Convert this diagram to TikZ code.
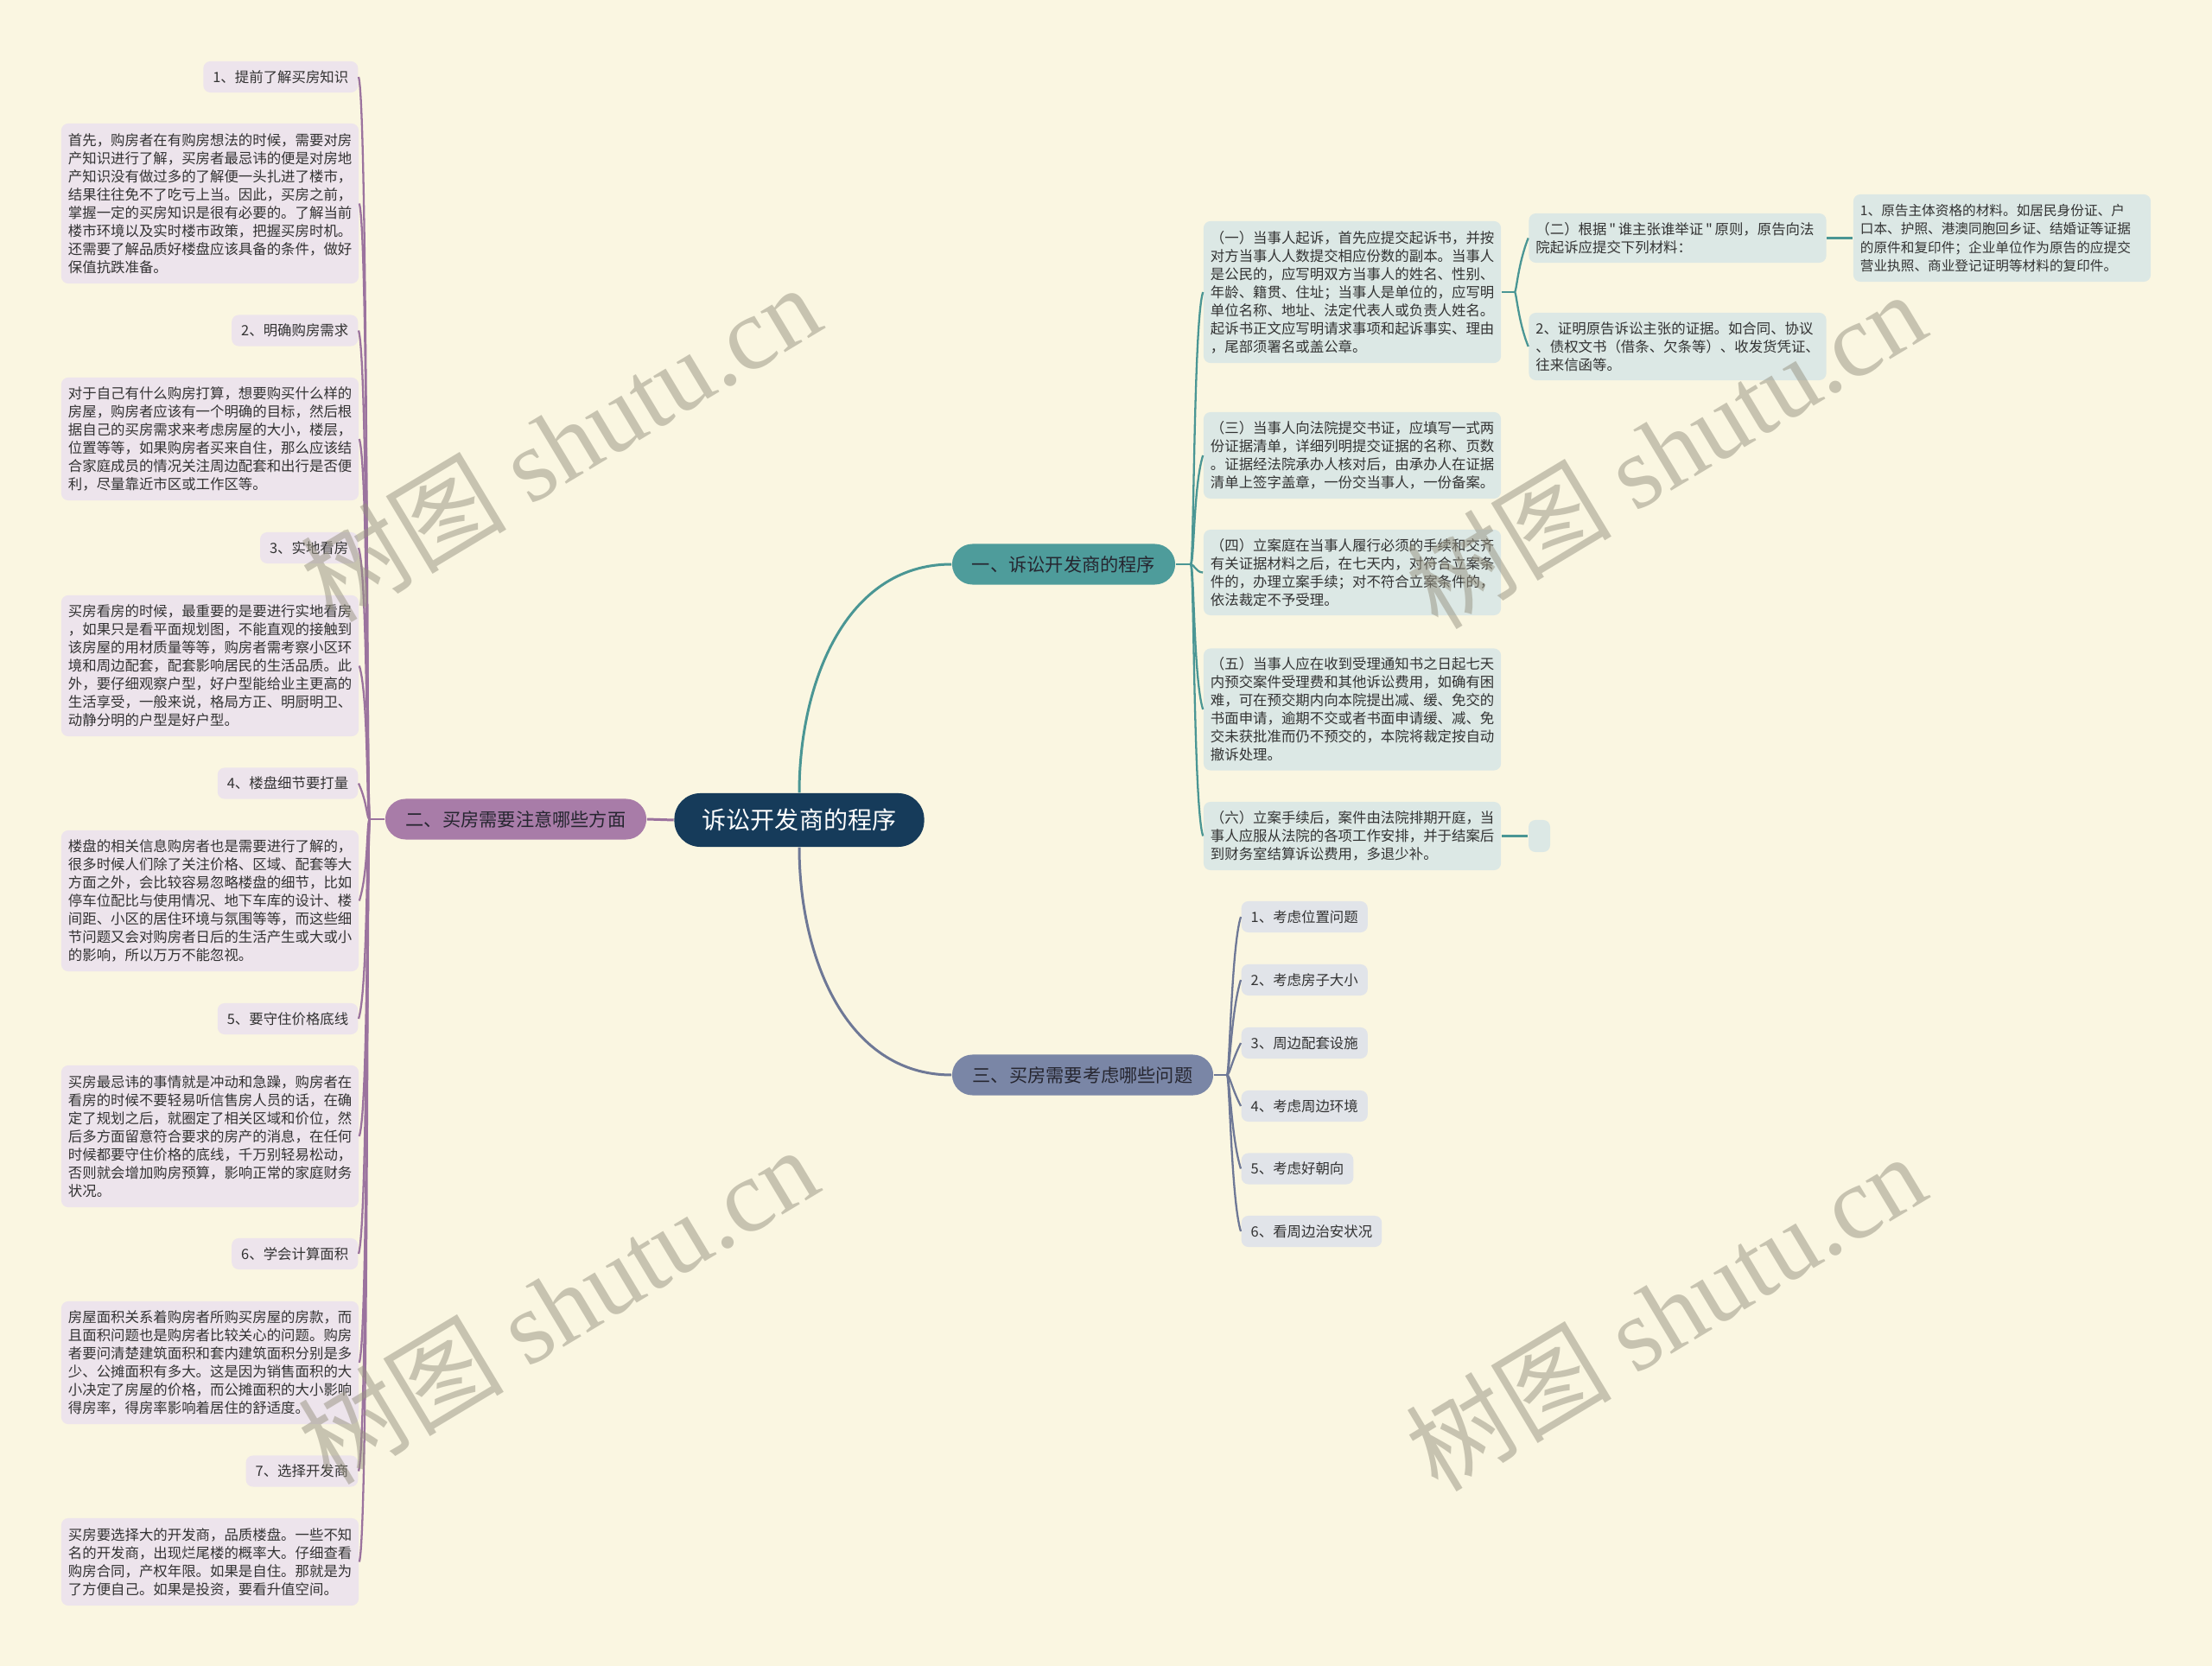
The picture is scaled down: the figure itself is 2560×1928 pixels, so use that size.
\documentclass[tikz,border=0pt]{standalone}
\usepackage{fontspec}
\setmainfont{Noto Sans CJK SC}
\newfontfamily\cjkplain{Noto Sans CJK SC}
\newfontfamily\wmlatin{Liberation Serif}
\usepackage{tikz}

\definecolor{paper}{RGB}{250,246,225}
\definecolor{rootblue}{RGB}{22,59,90}
\definecolor{teal1}{RGB}{78,156,155}
\definecolor{plum2}{RGB}{168,124,168}
\definecolor{slate3}{RGB}{122,134,166}
\definecolor{tealline}{RGB}{74,150,148}
\definecolor{plumline}{RGB}{155,115,158}
\definecolor{slateline}{RGB}{110,120,150}
\definecolor{tealbox}{RGB}{220,232,229}
\definecolor{plumbox}{RGB}{237,228,236}
\definecolor{slatebox}{RGB}{225,228,233}
\definecolor{ink}{RGB}{51,51,51}
\definecolor{branchink}{RGB}{38,38,48}
\definecolor{wmgray}{RGB}{150,146,128}

\begin{document}
\begin{tikzpicture}[x = 0.01cm, y = -0.01cm,
                    root/.style = {rounded corners = 0.3cm, fill = rootblue, text = white,
                                   minimum width = 2.89cm, minimum height = 0.62cm,
                                   font = \fontsize{7.97pt}{9pt}\selectfont},
                    branch/.style = {rounded corners = 0.235cm, minimum height = 0.47cm,
                                     text = branchink, font = \fontsize{6.03pt}{7pt}\selectfont},
                    leaf/.style = {rounded corners = 0.08cm, inner xsep = 0.11cm, inner ysep = 0pt,
                                   minimum height = 0.36cm, text = ink,
                                   font = \fontsize{4.67pt}{5.98pt}\selectfont},
                    para/.style = {rounded corners = 0.08cm, inner xsep = 0.08cm, inner ysep = 0pt,
                                   text width = 3.28cm, align = left, text = ink,
                                   font = \fontsize{4.67pt}{5.98pt}\selectfont},
                    line1/.style = {draw = tealline, line width = 0.65pt},
                    line2/.style = {draw = plumline, line width = 0.65pt},
                    line3/.style = {draw = slateline, line width = 0.65pt},
                    wmark/.style = {rotate = 31, text = wmgray, text opacity = 0.5,
                                    font = \fontsize{34pt}{34pt}\selectfont}]

\fill [paper] (0,0) rectangle (2560,1928);
\useasboundingbox (0,0) rectangle (2560,1928);

% centre and main branches
\node [root] (root) at (925,949) {诉讼开发商的程序};
\node [branch, fill = teal1, minimum width = 2.58cm] (b1) at (1231,653) {一、诉讼开发商的程序};
\node [branch, fill = plum2, minimum width = 3.02cm] (b2) at (597,948) {二、买房需要注意哪些方面};
\node [branch, fill = slate3, minimum width = 3.02cm] (b3) at (1253,1244) {三、买房需要考虑哪些问题};

\draw [line1, line width = 0.85pt] (root.north) to [out = 90, in = 180] (b1.west);
\draw [line2, line width = 0.85pt] (root.west) -- (b2.east);
\draw [line3, line width = 0.85pt] (root.south) to [out = -90, in = 180] (b3.west);

% branch one
\node [para, fill = tealbox, minimum height = 1.64cm] (R1) at (1565,338)
  {（一）当事人起诉，首先应提交起诉书，并按\\对方当事人人数提交相应份数的副本。当事人\\是公民的，应写明双方当事人的姓名、性别、\\年龄、籍贯、住址；当事人是单位的，应写明\\单位名称、地址、法定代表人或负责人姓名。\\起诉书正文应写明请求事项和起诉事实、理由\\，尾部须署名或盖公章。};
\node [para, fill = tealbox, minimum height = 1.00cm] (R3) at (1565,527)
  {（三）当事人向法院提交书证，应填写一式两\\份证据清单，详细列明提交证据的名称、页数\\。证据经法院承办人核对后，由承办人在证据\\清单上签字盖章，一份交当事人，一份备案。};
\node [para, fill = tealbox, minimum height = 0.99cm] (R4) at (1565,662.5)
  {（四）立案庭在当事人履行必须的手续和交齐\\有关证据材料之后，在七天内，对符合立案条\\件的，办理立案手续；对不符合立案条件的，\\依法裁定不予受理。};
\node [para, fill = tealbox, minimum height = 1.41cm] (R5) at (1565,821)
  {（五）当事人应在收到受理通知书之日起七天\\内预交案件受理费和其他诉讼费用，如确有困\\难，可在预交期内向本院提出减、缓、免交的\\书面申请，逾期不交或者书面申请缓、减、免\\交未获批准而仍不预交的，本院将裁定按自动\\撤诉处理。};
\node [para, fill = tealbox, minimum height = 0.79cm] (R6) at (1565,967.5)
  {（六）立案手续后，案件由法院排期开庭，当\\事人应服从法院的各项工作安排，并于结案后\\到财务室结算诉讼费用，多退少补。};

\node [para, fill = tealbox, minimum height = 0.57cm] (R2) at (1941.5,275.5)
  {（二）根据\,{\cjkplain "}\,谁主张谁举证\,{\cjkplain "}\,原则，原告向法\\院起诉应提交下列材料：};
\node [para, fill = tealbox, minimum height = 0.78cm] (R2b) at (1941.5,401)
  {2、证明原告诉讼主张的证据。如合同、协议\\、债权文书（借条、欠条等）、收发货凭证、\\往来信函等。};
\node [para, fill = tealbox, minimum height = 1.01cm, font = \fontsize{4.45pt}{6.1pt}\selectfont] (R2a) at (2317,275.5)
  {1、原告主体资格的材料。如居民身份证、户\\口本、护照、港澳同胞回乡证、结婚证等证据\\的原件和复印件；企业单位作为原告的应提交\\营业执照、商业登记证明等材料的复印件。};
\node [leaf, fill = tealbox, inner xsep = 0pt, minimum width = 0.25cm, minimum height = 0.37cm] (R6a) at (1781.5,967.5) {};

\coordinate (f1) at (1378,653);
\draw [line1] (b1.east) -- (f1);
\draw [line1] (f1) .. controls +(4,0) and +(-11,35) .. (R1.west);
\draw [line1] (f1) .. controls +(4,0) and +(-11,35) .. (R3.west);
\draw [line1] (f1) .. controls +(4,0) and +(-8,0) .. (R4.west);
\draw [line1] (f1) .. controls +(4,0) and +(-11,-35) .. (R5.west);
\draw [line1] (f1) .. controls +(4,0) and +(-11,-35) .. (R6.west);

\coordinate (f11) at (1753,338);
\draw [line1] (R1.east) -- (f11);
\draw [line1] (f11) .. controls +(2,0) and +(-12,30) .. (R2.west);
\draw [line1] (f11) .. controls +(2,0) and +(-12,-30) .. (R2b.west);
\draw [line1] (R2.east) -- (R2a.west);
\draw [line1] (R6.east) -- (R6a.west);

% branch two
\node [leaf, fill = plumbox, anchor = east] (L1) at (415,89) {1、提前了解买房知识};
\node [para, fill = plumbox, minimum height = 1.85cm] (P1) at (243,235.5)
  {首先，购房者在有购房想法的时候，需要对房\\产知识进行了解，买房者最忌讳的便是对房地\\产知识没有做过多的了解便一头扎进了楼市，\\结果往往免不了吃亏上当。因此，买房之前，\\掌握一定的买房知识是很有必要的。了解当前\\楼市环境以及实时楼市政策，把握买房时机。\\还需要了解品质好楼盘应该具备的条件，做好\\保值抗跌准备。};
\node [leaf, fill = plumbox, anchor = east] (L2) at (415,382.5) {2、明确购房需求};
\node [para, fill = plumbox, minimum height = 1.42cm] (P2) at (243,508)
  {对于自己有什么购房打算，想要购买什么样的\\房屋，购房者应该有一个明确的目标，然后根\\据自己的买房需求来考虑房屋的大小，楼层，\\位置等等，如果购房者买来自住，那么应该结\\合家庭成员的情况关注周边配套和出行是否便\\利，尽量靠近市区或工作区等。};
\node [leaf, fill = plumbox, anchor = east] (L3) at (415,634) {3、实地看房};
\node [para, fill = plumbox, minimum height = 1.63cm] (P3) at (243,770.5)
  {买房看房的时候，最重要的是要进行实地看房\\，如果只是看平面规划图，不能直观的接触到\\该房屋的用材质量等等，购房者需考察小区环\\境和周边配套，配套影响居民的生活品质。此\\外，要仔细观察户型，好户型能给业主更高的\\生活享受，一般来说，格局方正、明厨明卫、\\动静分明的户型是好户型。};
\node [leaf, fill = plumbox, anchor = east] (L4) at (415,906.5) {4、楼盘细节要打量};
\node [para, fill = plumbox, minimum height = 1.63cm] (P4) at (243,1042.5)
  {楼盘的相关信息购房者也是需要进行了解的，\\很多时候人们除了关注价格、区域、配套等大\\方面之外，会比较容易忽略楼盘的细节，比如\\停车位配比与使用情况、地下车库的设计、楼\\间距、小区的居住环境与氛围等等，而这些细\\节问题又会对购房者日后的生活产生或大或小\\的影响，所以万万不能忽视。};
\node [leaf, fill = plumbox, anchor = east] (L5) at (415,1179) {5、要守住价格底线};
\node [para, fill = plumbox, minimum height = 1.64cm] (P5) at (243,1315)
  {买房最忌讳的事情就是冲动和急躁，购房者在\\看房的时候不要轻易听信售房人员的话，在确\\定了规划之后，就圈定了相关区域和价位，然\\后多方面留意符合要求的房产的消息，在任何\\时候都要守住价格的底线，千万别轻易松动，\\否则就会增加购房预算，影响正常的家庭财务\\状况。};
\node [leaf, fill = plumbox, anchor = east] (L6) at (415,1451) {6、学会计算面积};
\node [para, fill = plumbox, minimum height = 1.42cm] (P6) at (243,1577)
  {房屋面积关系着购房者所购买房屋的房款，而\\且面积问题也是购房者比较关心的问题。购房\\者要问清楚建筑面积和套内建筑面积分别是多\\少、公摊面积有多大。这是因为销售面积的大\\小决定了房屋的价格，而公摊面积的大小影响\\得房率，得房率影响着居住的舒适度。};
\node [leaf, fill = plumbox, anchor = east] (L7) at (415,1702.5) {7、选择开发商};
\node [para, fill = plumbox, minimum height = 1.01cm] (P7) at (243,1807.5)
  {买房要选择大的开发商，品质楼盘。一些不知\\名的开发商，出现烂尾楼的概率大。仔细查看\\购房合同，产权年限。如果是自住。那就是为\\了方便自己。如果是投资，要看升值空间。};

\coordinate (f2) at (428,948);
\draw [line2] (b2.west) -- (f2);
\draw [line2] (f2) .. controls +(-4,0) and +(11,35) .. (L1.east);
\draw [line2] (f2) .. controls +(-4,0) and +(11,35) .. (P1.east);
\draw [line2] (f2) .. controls +(-4,0) and +(11,35) .. (L2.east);
\draw [line2] (f2) .. controls +(-4,0) and +(11,35) .. (P2.east);
\draw [line2] (f2) .. controls +(-4,0) and +(11,35) .. (L3.east);
\draw [line2] (f2) .. controls +(-4,0) and +(11,35) .. (P3.east);
\draw [line2] (f2) .. controls +(-4,0) and +(11,25) .. (L4.east);
\draw [line2] (f2) .. controls +(-4,0) and +(11,-35) .. (P4.east);
\draw [line2] (f2) .. controls +(-4,0) and +(11,-35) .. (L5.east);
\draw [line2] (f2) .. controls +(-4,0) and +(11,-35) .. (P5.east);
\draw [line2] (f2) .. controls +(-4,0) and +(11,-35) .. (L6.east);
\draw [line2] (f2) .. controls +(-4,0) and +(11,-35) .. (P6.east);
\draw [line2] (f2) .. controls +(-4,0) and +(11,-35) .. (L7.east);
\draw [line2] (f2) .. controls +(-4,0) and +(11,-35) .. (P7.east);

% branch three
\node [leaf, fill = slatebox, anchor = west] (T1) at (1436,1061) {1、考虑位置问题};
\node [leaf, fill = slatebox, anchor = west] (T2) at (1436,1134) {2、考虑房子大小};
\node [leaf, fill = slatebox, anchor = west] (T3) at (1436,1207) {3、周边配套设施};
\node [leaf, fill = slatebox, anchor = west] (T4) at (1436,1280) {4、考虑周边环境};
\node [leaf, fill = slatebox, anchor = west] (T5) at (1436,1352.5) {5、考虑好朝向};
\node [leaf, fill = slatebox, anchor = west] (T6) at (1436,1425) {6、看周边治安状况};

\coordinate (f3) at (1420,1244);
\draw [line3] (b3.east) -- (f3);
\draw [line3] (f3) .. controls +(3,0) and +(-11,35) .. (T1.west);
\draw [line3] (f3) .. controls +(3,0) and +(-11,35) .. (T2.west);
\draw [line3] (f3) .. controls +(3,0) and +(-11,22) .. (T3.west);
\draw [line3] (f3) .. controls +(3,0) and +(-11,-22) .. (T4.west);
\draw [line3] (f3) .. controls +(3,0) and +(-11,-35) .. (T5.west);
\draw [line3] (f3) .. controls +(3,0) and +(-11,-35) .. (T6.west);

% watermark
\node [wmark] (w1) at (648,512) {树图 {\wmlatin shutu.cn}};
\node [wmark] (w2) at (1927,520) {树图 {\wmlatin shutu.cn}};
\node [wmark] (w3) at (645,1510) {树图 {\wmlatin shutu.cn}};
\node [wmark] (w4) at (1927,1518) {树图 {\wmlatin shutu.cn}};
\end{tikzpicture}
\end{document}
